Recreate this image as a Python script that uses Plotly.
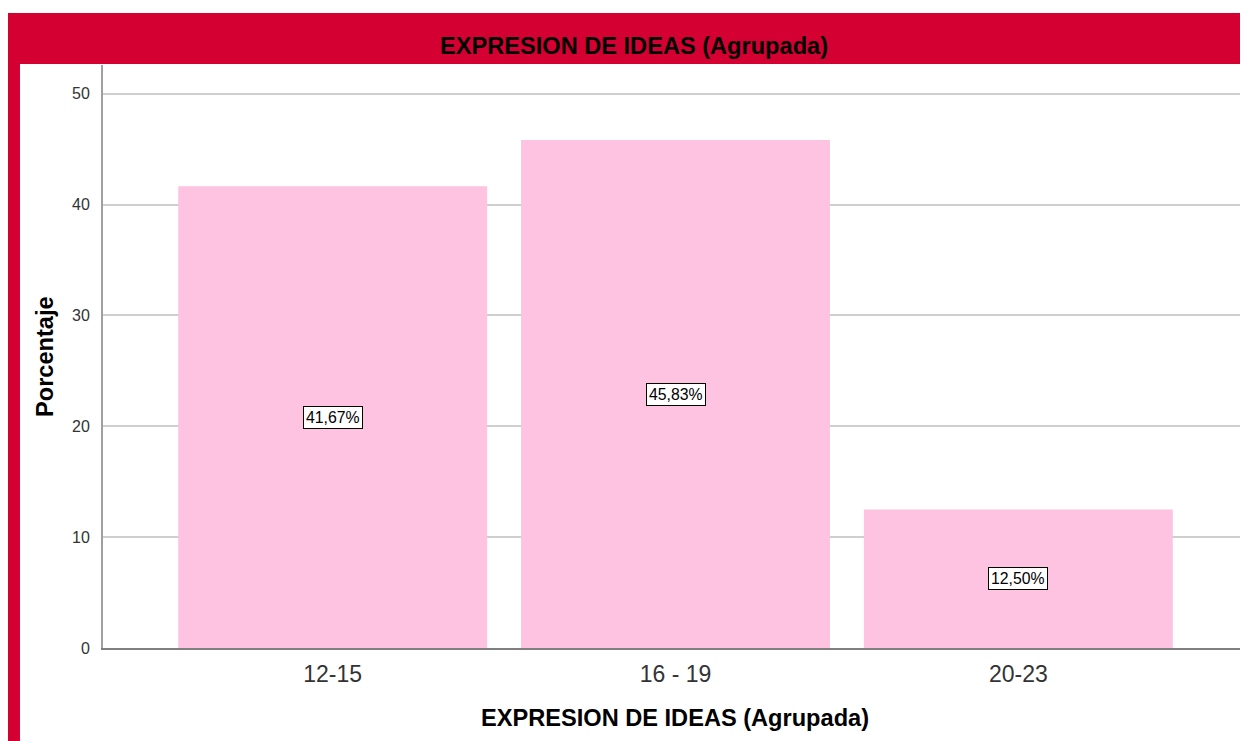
import plotly.graph_objects as go

categories = ["12-15", "16 - 19", "20-23"]
percentages = [41.67, 45.83, 12.50]
labels = ["41,67%", "45,83%", "12,50%"]

# the page body has an 8px margin, so the figure is 8px smaller and page coords shift by 8
OFF = 8
W, H = 1248 - OFF, 741 - OFF
L, R, T, B = 103 - OFF, 1, 65 - OFF, 741 - 648
pw, ph = W - L - R, H - T - B


def px(x):
    return (x - OFF - L) / pw


def py(y):
    return (H - B - (y - OFF)) / ph


RED = "#D50032"
PINK = "#FDC3E1"
FONT = "Liberation Sans, Arial"

fig = go.Figure()
fig.add_trace(
    go.Bar(
        x=categories,
        y=percentages,
        marker=dict(color=PINK, line=dict(width=0)),
        hoverinfo="x+y",
        showlegend=False,
    )
)

# boxed value labels in the middle of each bar
for c, v, t in zip(categories, percentages, labels):
    fig.add_annotation(
        x=c, y=v / 2, text=t, showarrow=False,
        xanchor="center", yanchor="middle",
        font=dict(family=FONT, size=15.8, color="black"),
        bgcolor="white", bordercolor="black", borderwidth=1, borderpad=2,
    )

# red frame: top band + left strip
fig.add_shape(type="rect", xref="paper", yref="paper",
              x0=px(8), x1=px(1249), y0=py(64), y1=py(13),
              fillcolor=RED, line=dict(width=0), layer="above")
fig.add_shape(type="rect", xref="paper", yref="paper",
              x0=px(8), x1=px(20), y0=py(742), y1=py(13),
              fillcolor=RED, line=dict(width=0), layer="above")

TITLE = "<b>EXPRESION DE IDEAS (Agrupada)</b>"
fig.add_annotation(
    xref="paper", yref="paper", x=px(634), y=py(46),
    xanchor="center", yanchor="middle", text=TITLE, showarrow=False,
    font=dict(family=FONT, size=23.6, color="black"),
)
fig.add_annotation(
    xref="paper", yref="paper", x=px(45), y=py(357),
    xanchor="center", yanchor="middle",
    text="<b>Porcentaje</b>", textangle=-90, showarrow=False,
    font=dict(family=FONT, size=23.6, color="black"),
)
fig.add_annotation(
    xref="paper", yref="paper", x=px(675), y=py(718),
    xanchor="center", yanchor="middle", text=TITLE, showarrow=False,
    font=dict(family=FONT, size=23.6, color="black"),
)

fig.update_xaxes(
    range=[-0.67, 2.667],
    showline=True, linecolor="#7F7F7F", linewidth=2,
    showgrid=False, ticks="", ticklen=0, ticklabelstandoff=4,
    tickfont=dict(family=FONT, size=23, color="#333333"),
)
fig.update_yaxes(
    range=[0, 52.6],
    tickvals=[0, 10, 20, 30, 40, 50],
    showline=True, linecolor="#A0A0A0", linewidth=2,
    showgrid=True, gridcolor="#CFCFCF", gridwidth=2,
    zeroline=False, ticks="", ticklabelstandoff=8,
    tickfont=dict(family=FONT, size=16, color="#333333"),
)
fig.update_layout(
    width=W, height=H,
    margin=dict(l=L, r=R, t=T, b=B),
    bargap=0.099,
    plot_bgcolor="white", paper_bgcolor="white",
)

fig.write_html("out.html")
